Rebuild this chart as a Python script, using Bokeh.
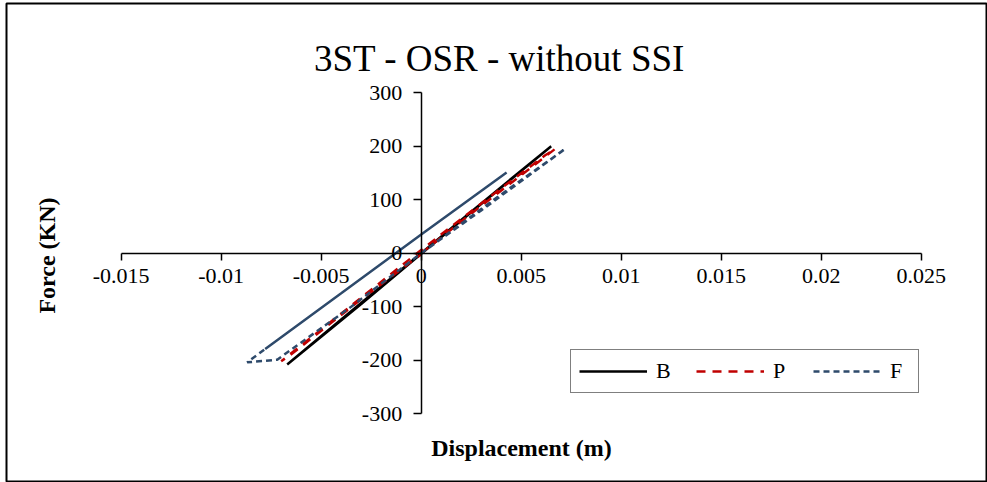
from bokeh.plotting import figure
from bokeh.models import (Range1d, FixedTicker, CustomJSTickFormatter, Label,
                          Legend, LegendItem)
from bokeh.embed import file_html
from bokeh.resources import INLINE
import math

# ---------------- data ----------------
title_text = "3ST - OSR - without SSI"
x_label = "Displacement (m)"
y_label = "Force (KN)"

x_ticks = [-0.015, -0.01, -0.005, 0.0, 0.005, 0.01, 0.015, 0.02, 0.025]
y_ticks = [-300, -200, -100, 0, 100, 200, 300]

B_x = [0.0, 0.0020, 0.0045, 0.0065, 0.0030, 0.0, -0.0030, -0.0067, -0.0040, 0.0]
B_y = [0, 62, 139, 200, 92, -1, -95, -208, -124, 0]

P_x = [0.0, 0.0025, 0.0050, 0.0067, 0.0062, 0.0030, 0.0, -0.0035, -0.0070, -0.0066, -0.0030, 0.0]
P_y = [0, 74, 146, 195, 183, 93, 6, -98, -202, -192, -86, -2]

F_x = [0.0, 0.0030, 0.0072, 0.0040, 0.0, -0.0035, -0.0072, -0.0087, -0.0078]
F_y = [0, 80, 195, 110, 0, -100, -199, -204, -179]

F_tail_x = [-0.0078, -0.0040, 0.0, 0.00427]
F_tail_y = [-179, -75, 35, 151]

# ---------------- figure ----------------
W, H = 987, 482
BL, BT, BB, BR = 6, 3, 1, 0
FONT = "Liberation Serif"

p = figure(width=W, height=H, output_backend="svg", toolbar_location=None,
           min_border_left=BL, min_border_top=BT, min_border_bottom=BB,
           min_border_right=BR, title=None,
           x_range=Range1d(-0.020735, 0.028315), y_range=Range1d(-426.7, 466.7))
p.xgrid.visible = False
p.ygrid.visible = False
p.background_fill_color = "white"
p.border_fill_color = "white"
p.outline_line_color = "black"
p.outline_line_width = 2

for ax, ticks, tout, fl in ((p.xaxis[0], x_ticks, 7, 0), (p.yaxis[0], y_ticks, 8, 0)):
    ax.fixed_location = fl
    ax.bounds = (ticks[0], ticks[-1])
    ax.ticker = FixedTicker(ticks=ticks)
    ax.formatter = CustomJSTickFormatter(code="return String(parseFloat(tick.toFixed(4)));")
    ax.axis_line_color = "black"
    ax.axis_line_width = 1.5
    ax.major_tick_line_color = "black"
    ax.major_tick_line_width = 1.5
    ax.major_tick_out = tout
    ax.major_tick_in = 0
    ax.minor_tick_line_color = None
    ax.major_label_text_font = FONT
    ax.major_label_text_font_size = "22px"
    ax.major_label_text_color = "black"
p.xaxis[0].major_label_standoff = 9
p.yaxis[0].major_label_standoff = 11

rB = p.line(B_x, B_y, line_color="black", line_width=2.5)
rP = p.line(P_x, P_y, line_color="#C00000", line_width=2.5, line_dash="9 7")
rF = p.line(F_x, F_y, line_color="#2E4A6B", line_width=2.5, line_dash="6 4")
p.line(F_tail_x, F_tail_y, line_color="#2E4A6B", line_width=2.5)

def sx(px):
    return px - BL

def sy(py):
    return (H - BB) - py

p.add_layout(Label(x=sx(499), y=sy(58), x_units="screen", y_units="screen",
                   text=title_text, text_align="center", text_baseline="alphabetic",
                   text_font=FONT, text_font_size="37px", text_color="black"))
p.add_layout(Label(x=sx(521), y=sy(447), x_units="screen", y_units="screen",
                   text=x_label, text_align="center", text_baseline="alphabetic",
                   text_font=FONT, text_font_size="24px", text_font_style="bold",
                   text_color="black"))
p.add_layout(Label(x=sx(46), y=sy(255), x_units="screen", y_units="screen",
                   text=y_label, text_align="center", text_baseline="middle",
                   angle=math.pi / 2, text_font=FONT, text_font_size="24px",
                   text_font_style="bold", text_color="black"))

legend = Legend(items=[LegendItem(label="B", renderers=[rB]),
                       LegendItem(label="P", renderers=[rP]),
                       LegendItem(label="F", renderers=[rF])],
                orientation="horizontal",
                location=(sx(570), sy(393)),
                padding=8, spacing=20, margin=0,
                glyph_width=68, glyph_height=16, label_standoff=9,
                label_width=20, label_height=16,
                label_text_font=FONT, label_text_font_size="22px",
                label_text_color="black",
                border_line_color="black", border_line_width=1.5,
                background_fill_color="white", background_fill_alpha=1.0)
p.add_layout(legend, "center")

open("out.html", "w").write(file_html(p, INLINE))
